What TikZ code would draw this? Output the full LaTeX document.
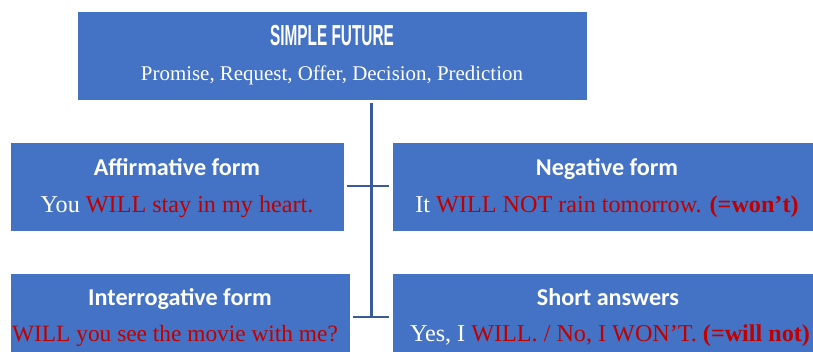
\documentclass[tikz,border=0pt]{standalone}
\usepackage{fontspec}
\setmainfont{Liberation Serif}
\newfontfamily\headfont{Carlito}
\newfontfamily\titlefont{Liberation Sans}
\usetikzlibrary{positioning, calc, fit}

\definecolor{boxblue}{HTML}{4472C4}
\definecolor{linkblue}{HTML}{3A5A9C}
\definecolor{willred}{HTML}{C00000}
\newcommand{\wl}[1]{\textcolor{willred}{#1}}

\begin{document}
\begin{tikzpicture}[x=0.02cm, y=-0.02cm]

	% 定义样式
	\tikzset{
		box/.style={
			draw=white, line width=0.3pt, fill=boxblue,
			inner sep=0pt
		},
		title/.style={anchor=base, text=white, font=\titlefont\bfseries\fontsize{16.5}{18}\selectfont},
		sub/.style={anchor=base, text=white, font=\fontsize{11.9}{14}\selectfont},
		head/.style={anchor=base, text=white, font=\headfont\bfseries\fontsize{13.75}{16}\selectfont},
		body/.style={anchor=base, text=white, font=\fontsize{13.75}{16}\selectfont},
		link/.style={draw=linkblue, line width=1.7pt}
	}

	\useasboundingbox (0,0) rectangle (813,351);

	% 方框
	\node[box, fit={(77,11) (587,100)}] (top) {};
	\node[box, fit={(10,142) (344,231)}] (aff) {};
	\node[box, fit={(392,142) (820,231)}] (neg) {};
	\node[box, fit={(10,273) (350,355)}] (inter) {};
	\node[box, fit={(392,273) (820,355)}] (short) {};

	% 连线
	\coordinate (t0) at (371,103);
	\coordinate (t1) at (371,318);
	\coordinate (a0) at (347,186);
	\coordinate (a1) at (389,186);
	\coordinate (b0) at (353,317);
	\coordinate (b1) at (389,317);
	\draw[link] (t0) -- (t1);
	\draw[link] (a0) -- (a1);
	\draw[link] (b0) -- (b1);

	% 文字
	\node[title] (ttl) at (332,45.7) {\scalebox{0.53}[1]{SIMPLE FUTURE}};
	\node[sub] (use) at (332,81) {Promise, Request, Offer, Decision, Prediction};

	\node[head] (affh) at (177,175.7) {Affirmative form};
	\node[body] (affb) at (177,212.7) {You \wl{WILL stay in my heart.}};

	\node[head] (negh) at (607,175.7) {Negative form};
	\node[body] (negb) at (607,212.7) {It \wl{WILL NOT rain tomorrow. \textbf{(=won’t)}}};

	\node[head] (interh) at (180,305.7) {Interrogative form};
	\node[body, font=\fontsize{13.3}{16}\selectfont] (interb) at (175,341.7) {\wl{WILL you see the movie with me?}};

	\node[head] (shorth) at (608,305.7) {Short answers};
	\node[body] (shortb) at (610,341.7) {Yes, I \wl{WILL. / No, I WON’T. \textbf{(=will not)}}};

\end{tikzpicture}
\end{document}
